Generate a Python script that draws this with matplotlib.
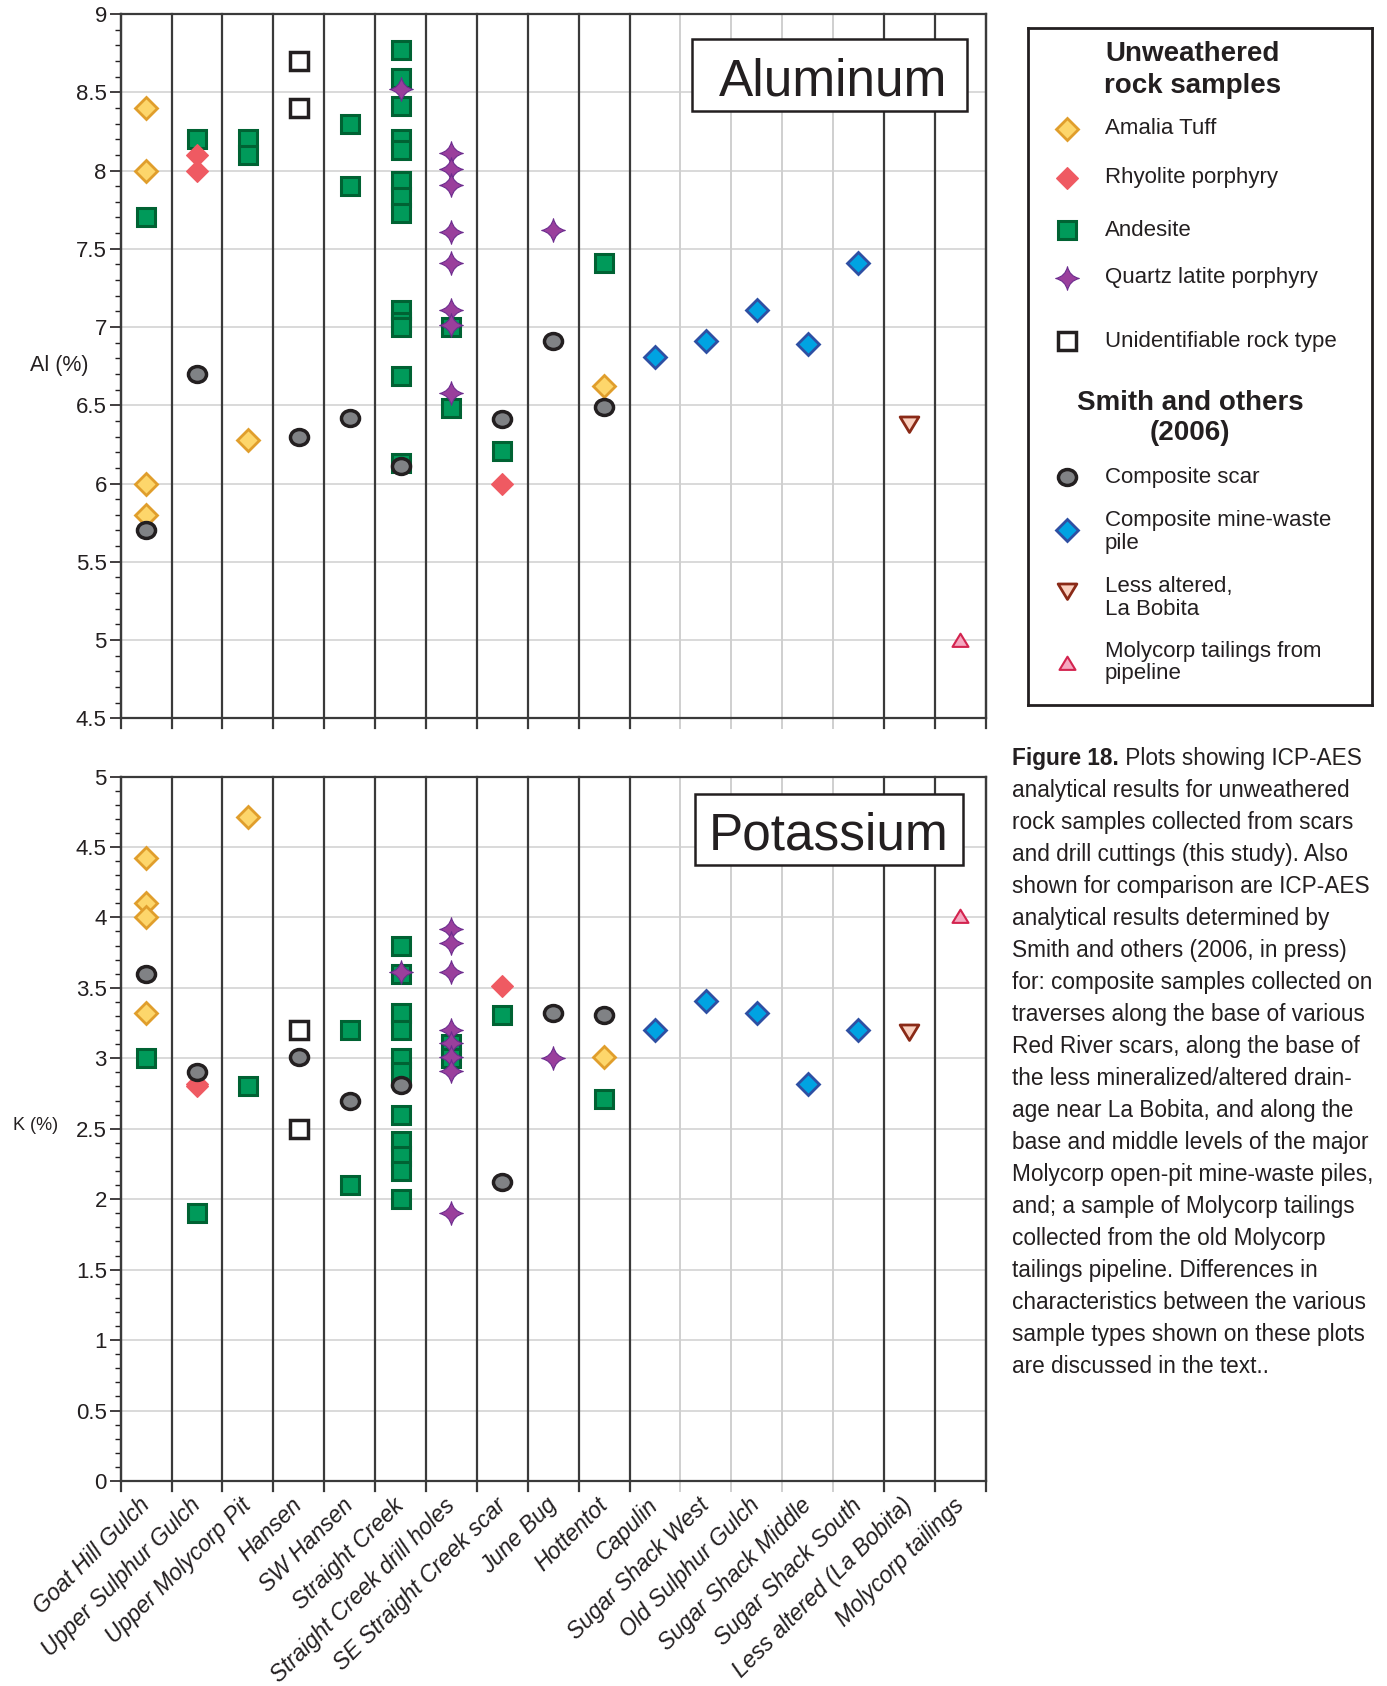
import numpy as np
import matplotlib
matplotlib.use("Agg")
import matplotlib.pyplot as plt
from matplotlib.path import Path
from matplotlib.patches import Rectangle
from matplotlib.ticker import MultipleLocator, FuncFormatter

plt.rcParams['font.family'] = ['Liberation Sans', 'DejaVu Sans']

sites = ["Goat Hill Gulch", "Upper Sulphur Gulch", "Upper Molycorp Pit", "Hansen",
         "SW Hansen", "Straight Creek", "Straight Creek drill holes",
         "SE Straight Creek scar", "June Bug", "Hottentot", "Capulin",
         "Sugar Shack West", "Old Sulphur Gulch", "Sugar Shack Middle",
         "Sugar Shack South", "Less altered (La Bobita)", "Molycorp tailings"]

# each sample: column (index into sites) and value
# --- Aluminum (%) ---
al_amalia_col = [0, 0, 0, 0, 2, 9]
al_amalia = [8.4, 8.0, 6.0, 5.8, 6.28, 6.62]
al_rhyolite_col = [1, 1, 7]
al_rhyolite = [8.1, 8.0, 6.0]
al_andesite_col = [0, 1, 2, 2, 4, 4] + [5] * 13 + [6, 6, 7, 9]
al_andesite = [7.7, 8.2, 8.2, 8.1, 8.3, 7.9,
               8.77, 8.59, 8.41, 8.2, 8.13, 7.93, 7.83, 7.73, 7.11, 7.03, 7.0, 6.69, 6.13,
               7.0, 6.48, 6.21, 7.41]
al_quartz_col = [5] + [6] * 8 + [8]
al_quartz = [8.52, 8.11, 8.01, 7.91, 7.61, 7.41, 7.11, 7.01, 6.58, 7.62]
al_unknown_col = [3, 3]
al_unknown = [8.7, 8.4]
al_scar_col = [0, 1, 3, 4, 5, 7, 8, 9]
al_scar = [5.7, 6.7, 6.3, 6.42, 6.11, 6.41, 6.91, 6.49]
al_pile_col = [10, 11, 12, 13, 14]
al_pile = [6.81, 6.91, 7.11, 6.89, 7.41]
al_bobita_col = [15]
al_bobita = [6.38]
al_tailings_col = [16]
al_tailings = [5.0]

# --- Potassium (%) ---
k_amalia_col = [0, 0, 0, 0, 2, 9]
k_amalia = [4.42, 4.1, 4.0, 3.32, 4.71, 3.01]
k_rhyolite_col = [1, 1, 7]
k_rhyolite = [2.82, 2.8, 3.51]
k_andesite_col = [0, 1, 2, 4, 4] + [5] * 11 + [6, 6, 7, 9]
k_andesite = [3.0, 1.9, 2.8, 3.2, 2.1,
              3.8, 3.6, 3.32, 3.2, 3.0, 2.9, 2.6, 2.41, 2.31, 2.2, 2.0,
              3.1, 3.0, 3.31, 2.71]
k_quartz_col = [5] + [6] * 8 + [8]
k_quartz = [3.61, 3.92, 3.82, 3.61, 3.2, 3.11, 3.01, 2.91, 1.9, 3.0]
k_unknown_col = [3, 3]
k_unknown = [3.2, 2.5]
k_scar_col = [0, 1, 3, 4, 5, 7, 8, 9]
k_scar = [3.6, 2.9, 3.01, 2.7, 2.81, 2.12, 3.32, 3.31]
k_pile_col = [10, 11, 12, 13, 14]
k_pile = [3.2, 3.41, 3.32, 2.82, 3.2]
k_bobita_col = [15]
k_bobita = [3.19]
k_tailings_col = [16]
k_tailings = [4.01]

# marker shapes
c = 0.18
star4 = Path([(0, 1), (c, c), (1, 0), (c, -c), (0, -1), (-c, -c), (-1, 0), (-c, c), (0, 1), (0, 1)],
             [Path.MOVETO] + [Path.CURVE3] * 8 + [Path.CLOSEPOLY])
tri_down = Path([(-1, 0.8), (1, 0.8), (0, -0.85), (-1, 0.8)],
                [Path.MOVETO, Path.LINETO, Path.LINETO, Path.CLOSEPOLY])
tri_up = Path([(-1, -0.8), (1, -0.8), (0, 0.85), (-1, -0.8)],
              [Path.MOVETO, Path.LINETO, Path.LINETO, Path.CLOSEPOLY])
circ = Path.unit_circle()
oval = Path(circ.vertices * [1, 0.88], circ.codes)

styles = {
    'andesite': dict(marker='s', ms=12.6, mfc='#009A5A', mec='#006233', mew=2.2),
    'amalia': dict(marker='D', ms=11, mfc='#FDD66B', mec='#E09E2C', mew=2),
    'rhyolite': dict(marker='D', ms=10.9, mfc='#EF5A62', mec='#EF5A62', mew=0.8),
    'unknown': dict(marker='s', ms=12.4, mfc='white', mec='#231F20', mew=2.5),
    'quartz': dict(marker=star4, ms=17, mfc='#9A3F9C', mec='#6C2C8E', mew=0.8),
    'scar': dict(marker=oval, ms=13, mfc='#808285', mec='#231F20', mew=2.5),
    'pile': dict(marker='D', ms=11.2, mfc='#00A3E2', mec='#2E4FA3', mew=2),
    'bobita': dict(marker=tri_down, ms=13.5, mfc='#FAD1C0', mec='#8A2A17', mew=2),
    'tailings': dict(marker=tri_up, ms=11.5, mfc='#F5A8C0', mec='#D3244F', mew=1.5),
}

al_series = [
    ('andesite', al_andesite_col, al_andesite),
    ('amalia', al_amalia_col, al_amalia),
    ('rhyolite', al_rhyolite_col, al_rhyolite),
    ('unknown', al_unknown_col, al_unknown),
    ('quartz', al_quartz_col, al_quartz),
    ('scar', al_scar_col, al_scar),
    ('pile', al_pile_col, al_pile),
    ('bobita', al_bobita_col, al_bobita),
    ('tailings', al_tailings_col, al_tailings),
]
k_series = [
    ('andesite', k_andesite_col, k_andesite),
    ('amalia', k_amalia_col, k_amalia),
    ('rhyolite', k_rhyolite_col, k_rhyolite),
    ('unknown', k_unknown_col, k_unknown),
    ('quartz', k_quartz_col, k_quartz),
    ('scar', k_scar_col, k_scar),
    ('pile', k_pile_col, k_pile),
    ('bobita', k_bobita_col, k_bobita),
    ('tailings', k_tailings_col, k_tailings),
]

DARK = '#3A3A3A'
LIGHT = '#CFCFCF'
INK = '#231F20'


def setup_panel(ax, ymin, ymax, with_labels):
    n = len(sites)
    ax.set_xlim(0, n)
    ax.set_ylim(ymin, ymax)
    ax.yaxis.set_major_locator(MultipleLocator(0.5))
    ax.yaxis.set_minor_locator(MultipleLocator(0.1))
    ax.yaxis.set_major_formatter(FuncFormatter(lambda v, p: f"{v:g}"))
    ax.grid(axis='y', color=LIGHT, lw=1.1)
    ax.set_axisbelow(True)
    ax.tick_params(axis='y', which='major', length=8, width=1.2, pad=2,
                   labelsize=16, colors=INK)
    ax.tick_params(axis='y', which='minor', length=4, width=1.0, colors=INK)
    ax.set_xticks(np.arange(n) + 0.5)
    ax.tick_params(axis='x', length=0, pad=15)
    if with_labels:
        ax.set_xticklabels(sites, rotation=45, ha='right', va='center',
                           rotation_mode='anchor', fontsize=16.5, style='italic',
                           color=INK)
    else:
        ax.set_xticklabels([])
    # column separators; the Smith mine-waste piles share light lines
    for k in range(n + 1):
        light = 11 <= k <= 14
        ax.axvline(k, ymin=-0.014, ymax=1, color=LIGHT if light else DARK,
                   lw=1.4 if light else 1.6, clip_on=False, zorder=1)
    for sp in ax.spines.values():
        sp.set_color(DARK)
        sp.set_linewidth(1.6)


def draw_series(ax, series):
    for key, cols, vals in series:
        ax.plot(np.array(cols) + 0.5, vals, linestyle='none', zorder=3,
                clip_on=False, **styles[key])


def title_box(ax, text, x0, y0, x1, y1, tx, ty):
    ax.add_patch(Rectangle((x0, y0), x1 - x0, y1 - y0, transform=ax.transAxes,
                           fc='white', ec=INK, lw=1.8, zorder=5))
    ax.text(tx, ty, text, transform=ax.transAxes, ha='center', va='baseline',
            fontsize=37, color=INK, zorder=6)


W, H = 1387, 1686
fig = plt.figure(figsize=(W / 100, H / 100), dpi=100)

ax_al = fig.add_axes([120.7 / W, 1 - 718.3 / H, 865 / W, 704.3 / H])
ax_k = fig.add_axes([120.7 / W, 1 - 1481 / H, 865 / W, 704.5 / H])

setup_panel(ax_al, 4.5, 9, False)
setup_panel(ax_k, 0, 5, True)
draw_series(ax_al, al_series)
draw_series(ax_k, k_series)

title_box(ax_al, "Aluminum", 0.66, 0.862, 0.978, 0.9645, 0.824, 0.8844)
title_box(ax_k, "Potassium", 0.664, 0.875, 0.974, 0.975, 0.818, 0.8957)

fig.text(30 / W, 1 - 365 / H, "Al (%)", ha='left', va='center', fontsize=15.5, color=INK)
fig.text(13 / W, 1 - 1126 / H, "K (%)", ha='left', va='center', fontsize=13, color=INK)

# legend panel, drawn in figure pixel units
lg = fig.add_axes([1028 / W, 1 - 705 / H, 344 / W, 677 / H])
lg.set_xlim(1028, 1372)
lg.set_ylim(705, 28)
lg.set_xticks([])
lg.set_yticks([])
for sp in lg.spines.values():
    sp.set_color(INK)
    sp.set_linewidth(2)

lg.text(1193, 70, "Unweathered\nrock samples", ha='center', va='center',
        fontsize=20, fontweight='bold', linespacing=1.3, color=INK)
lg.text(1190, 418, "Smith and others\n(2006)", ha='center', va='center',
        fontsize=20, fontweight='bold', linespacing=1.25, color=INK)

legend_items = [
    ('amalia', "Amalia Tuff", 128.6, 128.6),
    ('rhyolite', "Rhyolite porphyry", 178, 178),
    ('andesite', "Andesite", 230.5, 230.5),
    ('quartz', "Quartz latite porphyry", 278, 278),
    ('unknown', "Unidentifiable rock type", 341, 341),
    ('scar', "Composite scar", 477.5, 477.5),
    ('pile', "Composite mine-waste\npile", 530, 532),
    ('bobita', "Less altered,\nLa Bobita", 591, 598),
    ('tailings', "Molycorp tailings from\npipeline", 663, 662.5),
]
for key, label, my, ty in legend_items:
    lg.plot([1067], [my], linestyle='none', clip_on=False, **styles[key])
    lg.text(1105, ty, label, ha='left', va='center', fontsize=16,
            linespacing=1.1, color=INK)

# figure caption
caption = [
    "analytical results for unweathered",
    "rock samples collected from scars",
    "and drill cuttings (this study). Also",
    "shown for comparison are ICP-AES",
    "analytical results determined by",
    "Smith and others (2006, in press)",
    "for: composite samples collected on",
    "traverses along the base of various",
    "Red River scars, along the base of",
    "the less mineralized/altered drain-",
    "age near La Bobita, and along the",
    "base and middle levels of the major",
    "Molycorp open-pit mine-waste piles,",
    "and; a sample of Molycorp tailings",
    "collected from the old Molycorp",
    "tailings pipeline. Differences in",
    "characteristics between the various",
    "sample types shown on these plots",
    "are discussed in the text..",
]
cx = 1012 / W
y0 = 758.5
head = fig.text(cx, 1 - y0 / H, "Figure 18.", ha='left', va='center',
                fontsize=16.3, fontweight='bold', color=INK)
bb = head.get_window_extent(fig.canvas.get_renderer())
fig.text(bb.x1 / W, 1 - y0 / H, " Plots showing ICP-AES", ha='left', va='center',
         fontsize=16.3, color=INK)
for i, line in enumerate(caption, start=1):
    fig.text(cx, 1 - (y0 + 32 * i) / H, line, ha='left', va='center',
             fontsize=16.3, color=INK)

fig.savefig("out.png", dpi=100)
